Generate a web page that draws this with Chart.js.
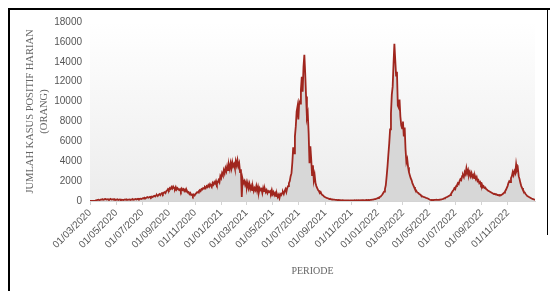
<!DOCTYPE html>
<html>
<head>
<meta charset="utf-8">
<script src="https://cdn.jsdelivr.net/npm/chart.js@4/dist/chart.umd.min.js"></script>
<style>
  html, body { margin: 0; padding: 0; background: #fff; }
  canvas { display: block; }
</style>
</head>
<body>
<canvas id="kasusChart" width="550" height="291"></canvas>
<script>
// daily positive cases, one value every STEP_DAYS days starting at START_DATE
const START_DATE = '01/03/2020';
const STEP_DAYS = 2;

const kasusHarian = [
    // Mar 2020
    0, 0, 2, 5, 10, 20, 35, 60, 90, 110, 130, 100, 120, 150, 140,
    // Apr
    160, 120, 180, 200, 150, 170, 190, 130, 160, 210, 140, 170, 180, 120, 150,
    // May
    110, 140, 170, 100, 130, 160, 120, 140, 110, 100, 130, 150, 120, 140, 110,
    // Jun
    130, 150, 110, 160, 140, 180, 130, 170, 200, 160, 190, 220, 170, 210, 240,
    // Jul
    200, 260, 300, 240, 320, 280, 350, 400, 330, 380, 420, 360, 450, 400, 480,
    // Aug
    520, 450, 560, 600, 500, 620, 700, 580, 720, 800, 700, 850, 900, 800, 1000,
    // Sep
    1050, 1200, 1100, 1300, 1200, 1400, 1250, 1450, 1300, 1200, 1400, 1150, 1300, 1200, 1100,
    // Oct
    1200, 1000, 1250, 1100, 1200, 1000, 1150, 950, 1050, 850, 900, 700, 800, 600, 650,
    // Nov
    500, 650, 550, 700, 800, 900, 850, 1000, 1100, 1000, 1200, 1150, 1300, 1250, 1400,
    // Dec
    1300, 1500, 1400, 1600, 1450, 1700, 1550, 1400, 1800, 1650, 1900, 1750, 2000, 1700, 1900,
    // Jan 2021
    2100, 1900, 2500, 2300, 2800, 2600, 3100, 2800, 3300, 3000, 3500, 3100, 3600, 3200, 3800,
    // Feb
    3300, 3900, 3500, 3700, 3300, 4000, 3600, 4100, 3500, 3800, 2900, 3200, 400, 2200, 1800,
    // Mar
    2000, 1600, 1900, 1400, 1800, 1300, 1700, 1200, 1500, 1100, 1400, 1000, 1300, 1100, 1500,
    // Apr
    1000, 1400, 900, 1300, 1100, 1200, 800, 1300, 1000, 1200, 900, 1100, 800, 1000, 900,
    // May
    1000, 800, 1100, 700, 900, 600, 800, 500, 700, 400, 600, 300, 700, 600, 800,
    // Jun
    900, 700, 1000, 1200, 900, 1300, 1500, 1800, 2000, 2500, 2800, 3900, 5400, 4800, 6500,
    // Jul
    7500, 9000, 9500, 8200, 10000, 9800, 11200, 12500, 11000, 13500, 14700, 12800, 10500, 8400, 8800,
    // Aug
    6800, 3800, 5500, 4200, 2600, 3600, 2100, 2600, 1800, 1500, 1300, 1100, 1000, 800, 900,
    // Sep
    700, 600, 550, 450, 400, 350, 300, 280, 250, 200, 220, 180, 160, 150, 140,
    // Oct
    130, 120, 110, 100, 90, 110, 80, 90, 70, 80, 75, 60, 70, 65, 60,
    // Nov
    55, 60, 50, 70, 55, 65, 50, 60, 55, 70, 60, 75, 65, 80, 70,
    // Dec
    80, 70, 90, 75, 85, 70, 95, 80, 100, 90, 110, 95, 120, 110, 130,
    // Jan 2022
    140, 160, 180, 200, 230, 260, 300, 350, 400, 450, 550, 650, 800, 950, 1200,
    // Feb
    1600, 2500, 3500, 4700, 5800, 7200, 8800, 10700, 11500, 13800, 15800, 14200, 12600, 13000, 9600,
    // Mar
    9400, 10200, 8500, 7600, 7300, 8000, 6500, 7400, 5200, 3900, 4200, 3400, 2900, 2600, 2300,
    // Apr
    2100, 1800, 1600, 1400, 1200, 1100, 950, 850, 800, 700, 650, 550, 500, 450, 400,
    // May
    380, 350, 300, 280, 250, 200, 150, 120, 100, 110, 90, 100, 110, 120, 130,
    // Jun
    120, 110, 130, 140, 150, 170, 200, 220, 260, 300, 350, 380, 420, 480, 520,
    // Jul
    600, 700, 850, 1000, 1100, 1300, 1200, 1500, 1600, 1800, 1700, 2000, 2200, 2100, 2500,
    // Aug
    2600, 2400, 2900, 2700, 3300, 2800, 3100, 2600, 2900, 2500, 2800, 2400, 2600, 2300, 2500,
    // Sep
    2200, 2400, 2000, 2100, 1800, 1900, 1600, 1700, 1400, 1500, 1300, 1350, 1200, 1150, 1050,
    // Oct
    1000, 950, 900, 850, 800, 750, 700, 720, 650, 680, 600, 620, 580, 600, 560,
    // Nov
    620, 680, 750, 850, 950, 1100, 1300, 1500, 1800, 2000, 1900, 2300, 2500, 2900, 2600,
    // Dec
    3000, 2800, 3700, 3100, 3300, 2500, 2200, 1800, 1500, 1300, 1100, 950, 850, 700, 600,
    // end Dec 2022 / Jan 2023
    500, 450, 400, 350, 300, 250, 220, 180, 150, 120
];

const xTickLabels = [
    '01/03/2020', '01/05/2020', '01/07/2020', '01/09/2020', '01/11/2020',
    '01/01/2021', '01/03/2021', '01/05/2021', '01/07/2021', '01/09/2021', '01/11/2021',
    '01/01/2022', '01/03/2022', '01/05/2022', '01/07/2022', '01/09/2022', '01/11/2022'
];

const yMax = 18000;
const yStep = 2000;

function toDay(label) {
    const p = label.split('/').map(Number);
    const s = START_DATE.split('/').map(Number);
    return (Date.UTC(p[2], p[1] - 1, p[0]) - Date.UTC(s[2], s[1] - 1, s[0])) / 86400000;
}

const points = kasusHarian.map((v, i) => ({ x: i * STEP_DAYS, y: v }));
const lastDay = (kasusHarian.length - 1) * STEP_DAYS;

// gray gradient behind the plot area + black frame lines
const backdrop = {
    id: 'backdrop',
    beforeDraw(chart) {
        const { ctx, chartArea: a } = chart;
        const g = ctx.createLinearGradient(0, a.top, 0, a.bottom);
        g.addColorStop(0, '#ffffff');
        g.addColorStop(1, '#ececec');
        ctx.save();
        ctx.fillStyle = g;
        ctx.fillRect(a.left, a.top, a.right - a.left, a.bottom - a.top);
        ctx.restore();
    },
    afterDraw(chart) {
        const ctx = chart.ctx;
        ctx.save();
        ctx.strokeStyle = '#000';
        ctx.lineWidth = 2;
        ctx.beginPath();
        ctx.moveTo(9, 291);
        ctx.lineTo(9, 9);
        ctx.lineTo(550, 9);
        ctx.stroke();
        ctx.lineWidth = 1;
        ctx.beginPath();
        ctx.moveTo(547.5, 9);
        ctx.lineTo(547.5, 235);
        ctx.stroke();
        ctx.restore();
    }
};

Chart.defaults.font.family = '"Liberation Sans", Arial, sans-serif';

const ctx = document.getElementById('kasusChart').getContext('2d');
new Chart(ctx, {
    type: 'line',
    data: {
        datasets: [{
            label: 'Kasus positif harian',
            data: points,
            borderColor: '#a0261e',
            borderWidth: 1.8,
            backgroundColor: '#d7d7d7',
            fill: 'origin',
            pointRadius: 0,
            tension: 0
        }]
    },
    options: {
        responsive: false,
        animation: false,
        layout: { padding: { left: 0, right: 15, top: 22, bottom: 0 } },
        plugins: {
            legend: { display: false },
            tooltip: { enabled: false }
        },
        scales: {
            x: {
                type: 'linear',
                min: 0,
                max: lastDay,
                afterBuildTicks(scale) {
                    scale.ticks = xTickLabels.map(l => ({ value: toDay(l) }));
                },
                afterFit(scale) { scale.height = 90; },
                border: { display: true, color: '#d4d4d4' },
                grid: { display: true, drawOnChartArea: false, tickLength: 4, color: '#d4d4d4' },
                ticks: {
                    autoSkip: false,
                    minRotation: 45,
                    maxRotation: 45,
                    padding: 2,
                    color: '#555',
                    font: { size: 10 },
                    callback(value) {
                        const i = xTickLabels.findIndex(l => toDay(l) === value);
                        return i >= 0 ? xTickLabels[i] : '';
                    }
                },
                title: {
                    display: true,
                    text: 'PERIODE',
                    color: '#666',
                    font: { family: '"Liberation Serif", "Times New Roman", serif', size: 10 },
                    padding: { top: 0, bottom: 14 }
                }
            },
            y: {
                min: 0,
                max: yMax,
                afterFit(scale) { scale.width = 90; },
                border: { display: false },
                grid: { display: false },
                ticks: {
                    stepSize: yStep,
                    padding: 0,
                    color: '#555',
                    font: { size: 10 },
                    callback: v => String(v)
                },
                title: {
                    display: true,
                    text: ['JUMLAH KASUS POSITIF HARIAN', '(ORANG)'],
                    color: '#666',
                    font: { family: '"Liberation Serif", "Times New Roman", serif', size: 10.5, lineHeight: 1.33 },
                    padding: { top: 23, bottom: 0 }
                }
            }
        }
    },
    plugins: [backdrop]
});
</script>
</body>
</html>
